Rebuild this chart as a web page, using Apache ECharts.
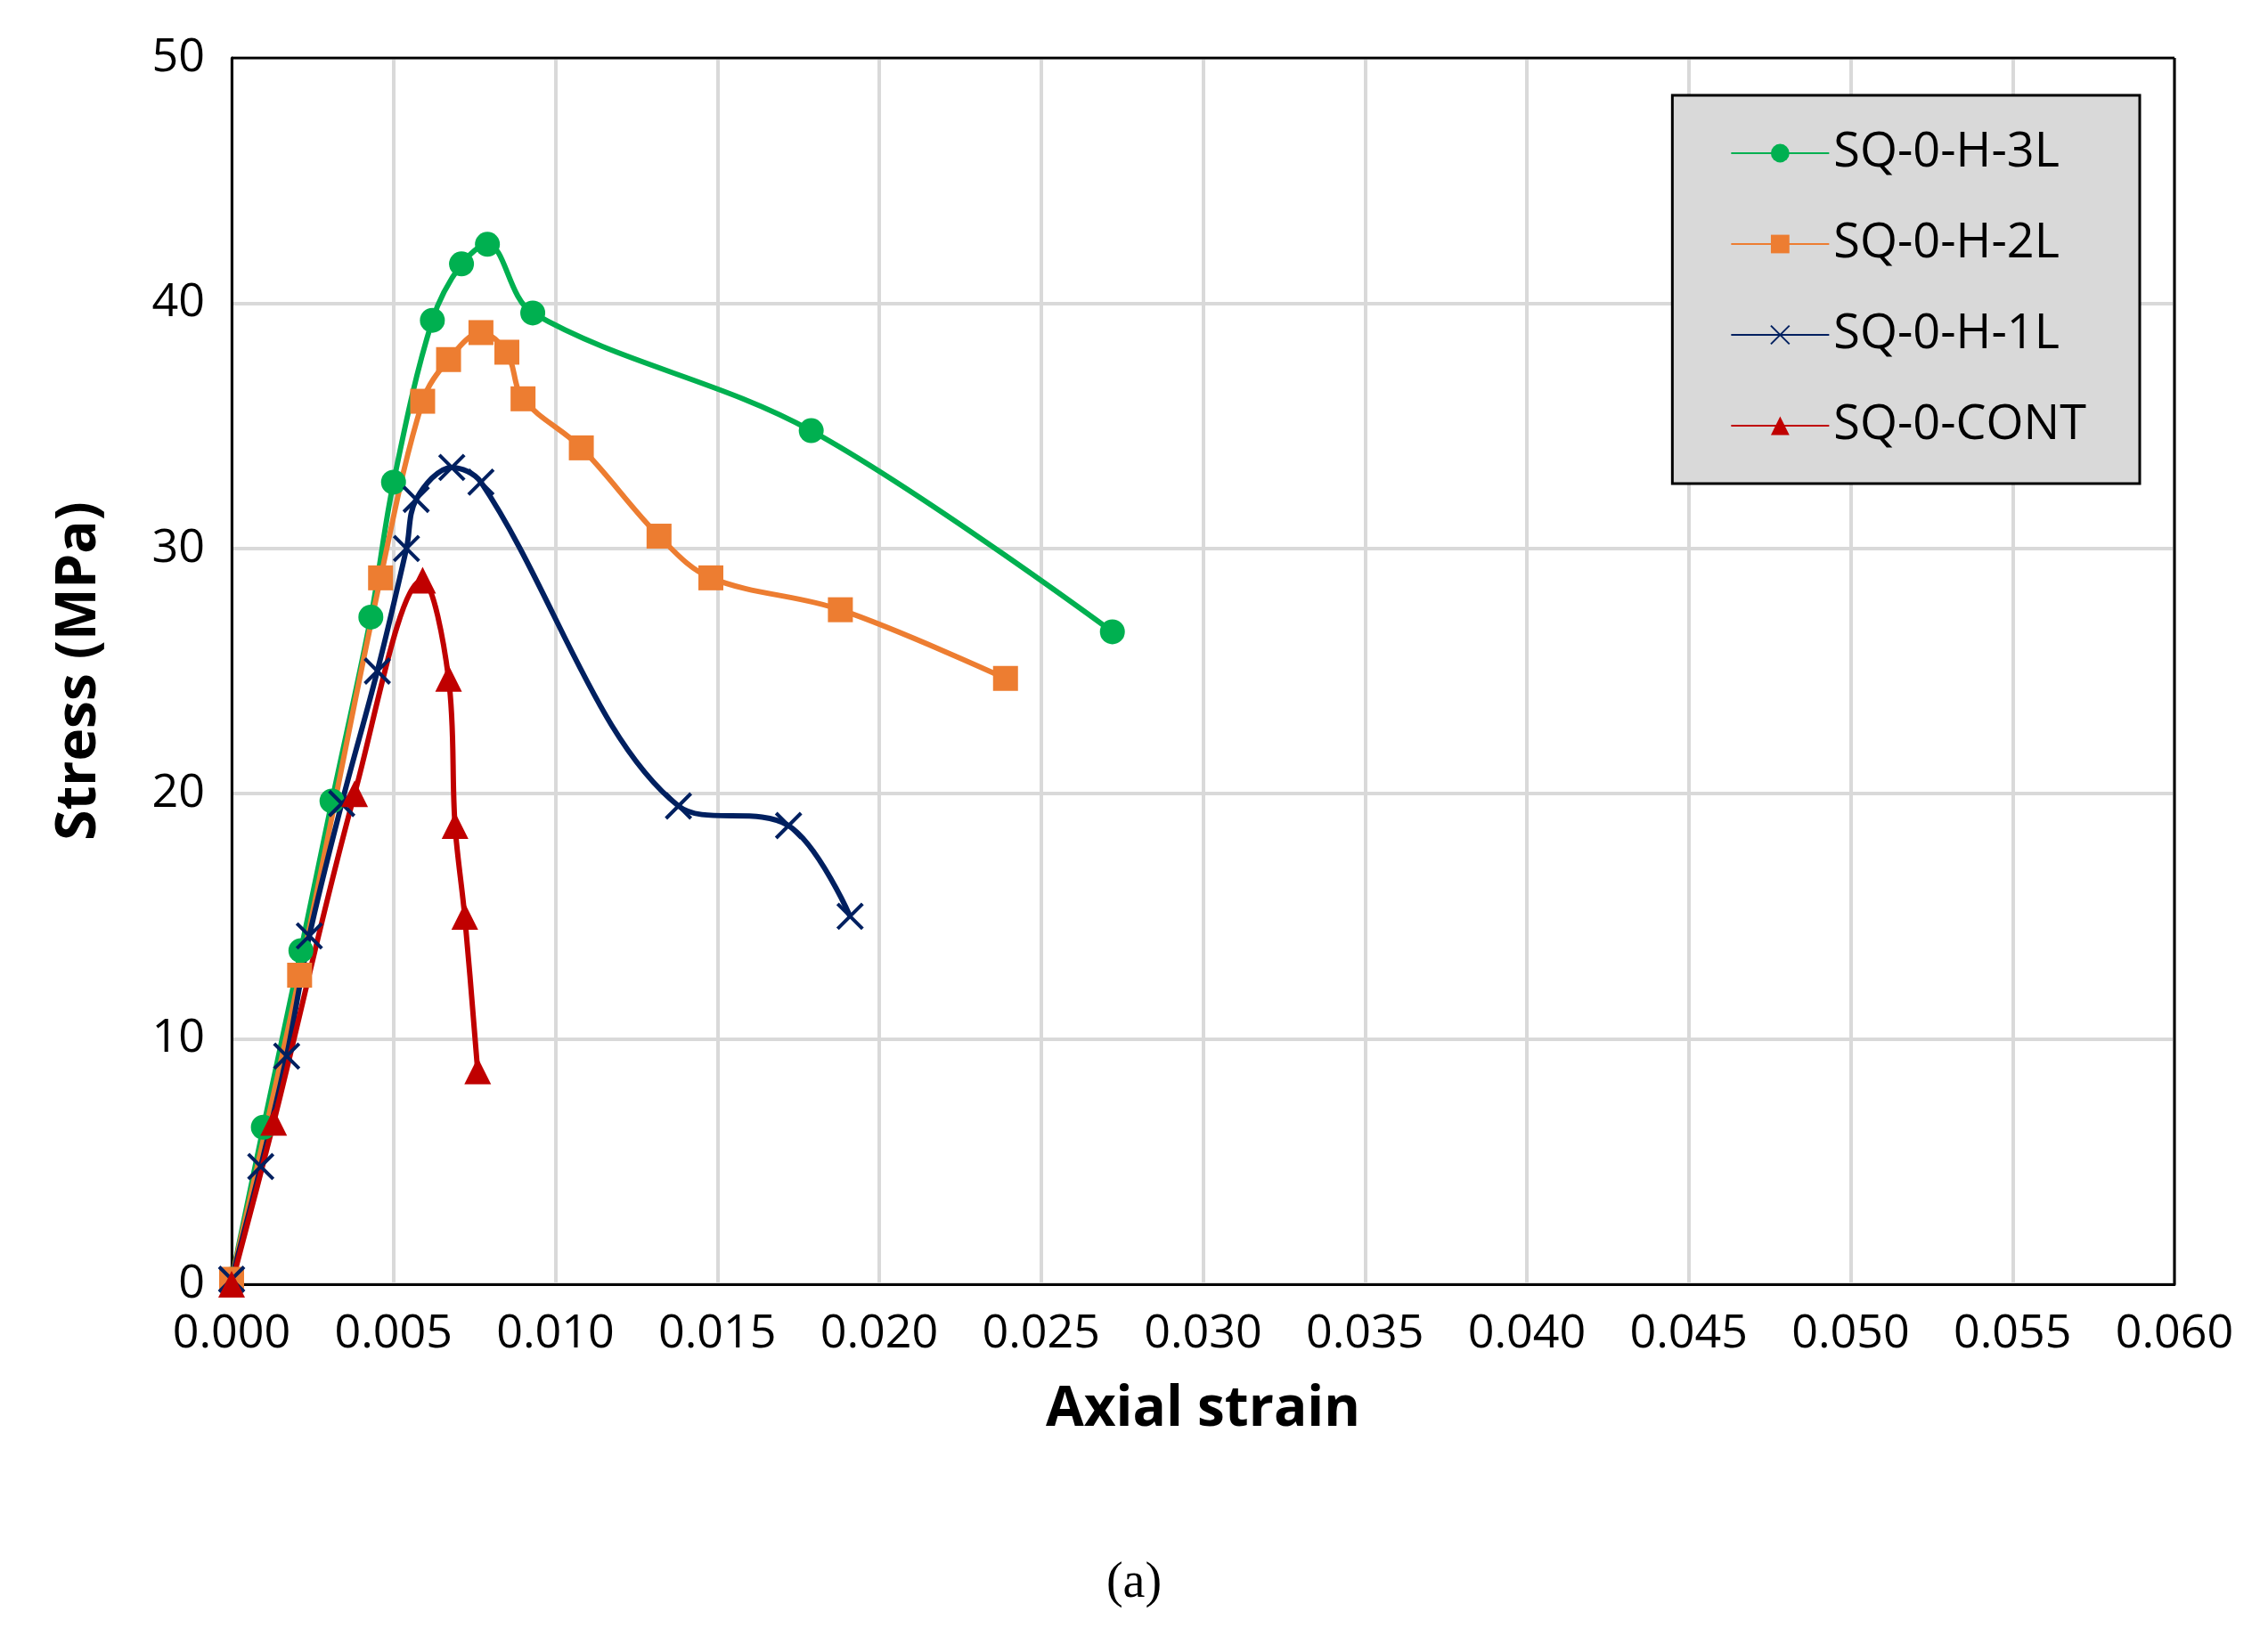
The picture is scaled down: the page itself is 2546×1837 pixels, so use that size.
<!DOCTYPE html>
<html>
<head>
<meta charset="utf-8">
<script src="https://cdn.jsdelivr.net/npm/echarts@6/dist/echarts.min.js"></script>
<style>html,body{margin:0;background:#fff}#main{width:2546px;height:1837px}</style>
</head>
<body>
<div id="main"></div>
<script>
// [strain, stress] pairs
var h3l = [[0,0.2],[0.00098,6.4],[0.00214,13.6],[0.0031,19.7],[0.0043,27.2],[0.0050,32.7],[0.0062,39.3],[0.0071,41.6],[0.0079,42.4],[0.0093,39.6],[0.0179,34.8],[0.0272,26.6]];
var h2l = [[0,0.2],[0.0021,12.6],[0.0046,28.8],[0.0059,36.0],[0.0067,37.7],[0.0077,38.8],[0.0085,38.0],[0.0090,36.1],[0.0108,34.1],[0.0132,30.5],[0.0148,28.8],[0.0188,27.5],[0.0239,24.7]];
var h1l = [[0,0.2],[0.0009,4.8],[0.0017,9.3],[0.0024,14.2],[0.0034,19.6],[0.0045,25.0],[0.0054,30.0],[0.0057,32.0],[0.0068,33.3],[0.0077,32.7],[0.0138,19.5],[0.0172,18.7],[0.0191,15.0]];
var cont = [[0,0],[0.0013,6.6],[0.0038,20.0],[0.0059,28.7],[0.0067,24.7],[0.0069,18.7],[0.0072,15.0],[0.0076,8.7]];
var names = ['SQ-0-H-3L','SQ-0-H-2L','SQ-0-H-1L','SQ-0-CONT'];
var colors = ['#00b050','#ed7d31','#002060','#c00000'];

var font = 'Open Sans';
var chart = echarts.init(document.getElementById('main'));
function line(i, data, symbol, size, extra) {
  var s = {
    name: names[i], type: 'line', data: data, smooth: 0.35,
    symbol: symbol, symbolSize: size,
    lineStyle: {color: colors[i], width: 6},
    itemStyle: {color: colors[i]}
  };
  return Object.assign(s, extra || {});
}
chart.setOption({
  color: colors,
  animation: false,
  textStyle: {fontFamily: font},
  grid: {left: 260, right: 105, top: 65, bottom: 395},
  title: {text: '(a)', left: 'center', top: 1745,
    textStyle: {fontFamily: 'Liberation Serif', fontSize: 56, fontWeight: 'normal', color: '#000'}},
  legend: {
    orient: 'vertical', right: 144, top: 107,
    backgroundColor: '#d9d9d9', borderColor: '#000', borderWidth: 3,
    padding: [38, 60, 38, 65], itemGap: 48, itemWidth: 110, itemHeight: 26,
    textStyle: {fontFamily: font, fontSize: 54, color: '#000'},
    data: names
  },
  xAxis: {
    type: 'value', min: 0, max: 0.06, interval: 0.005,
    name: 'Axial strain', nameLocation: 'middle', nameGap: 110,
    nameTextStyle: {fontFamily: font, fontSize: 62, fontWeight: 'bold', color: '#000'},
    axisLine: {lineStyle: {color: '#000', width: 3}},
    axisTick: {show: false},
    axisLabel: {fontSize: 52, color: '#000', margin: 30, formatter: function (v) { return v.toFixed(3); }},
    splitLine: {lineStyle: {color: '#d9d9d9', width: 4}}
  },
  yAxis: {
    type: 'value', min: 0, max: 50, interval: 10,
    name: 'Stress (MPa)', nameLocation: 'middle', nameGap: 140,
    nameTextStyle: {fontFamily: font, fontSize: 62, fontWeight: 'bold', color: '#000'},
    axisLine: {show: true, lineStyle: {color: '#000', width: 3}},
    axisTick: {show: false},
    axisLabel: {fontSize: 52, color: '#000', margin: 30},
    splitLine: {lineStyle: {color: '#d9d9d9', width: 4}}
  },
  series: [
    line(0, h3l, 'circle', 28),
    line(1, h2l, 'rect', 28),
    line(2, h1l, 'path://M0,0L10,10M10,0L0,10', 28,
      {itemStyle: {color: colors[2], borderColor: colors[2], borderWidth: 4}}),
    line(3, cont, 'triangle', 30),
    {type: 'line', data: [[0.06, 0], [0.06, 50]], symbol: 'none', silent: true,
      lineStyle: {color: '#000', width: 3}},
    {type: 'line', data: [[0, 50], [0.06, 50]], symbol: 'none', silent: true,
      lineStyle: {color: '#000', width: 3}}
  ]
});
</script>
</body>
</html>
